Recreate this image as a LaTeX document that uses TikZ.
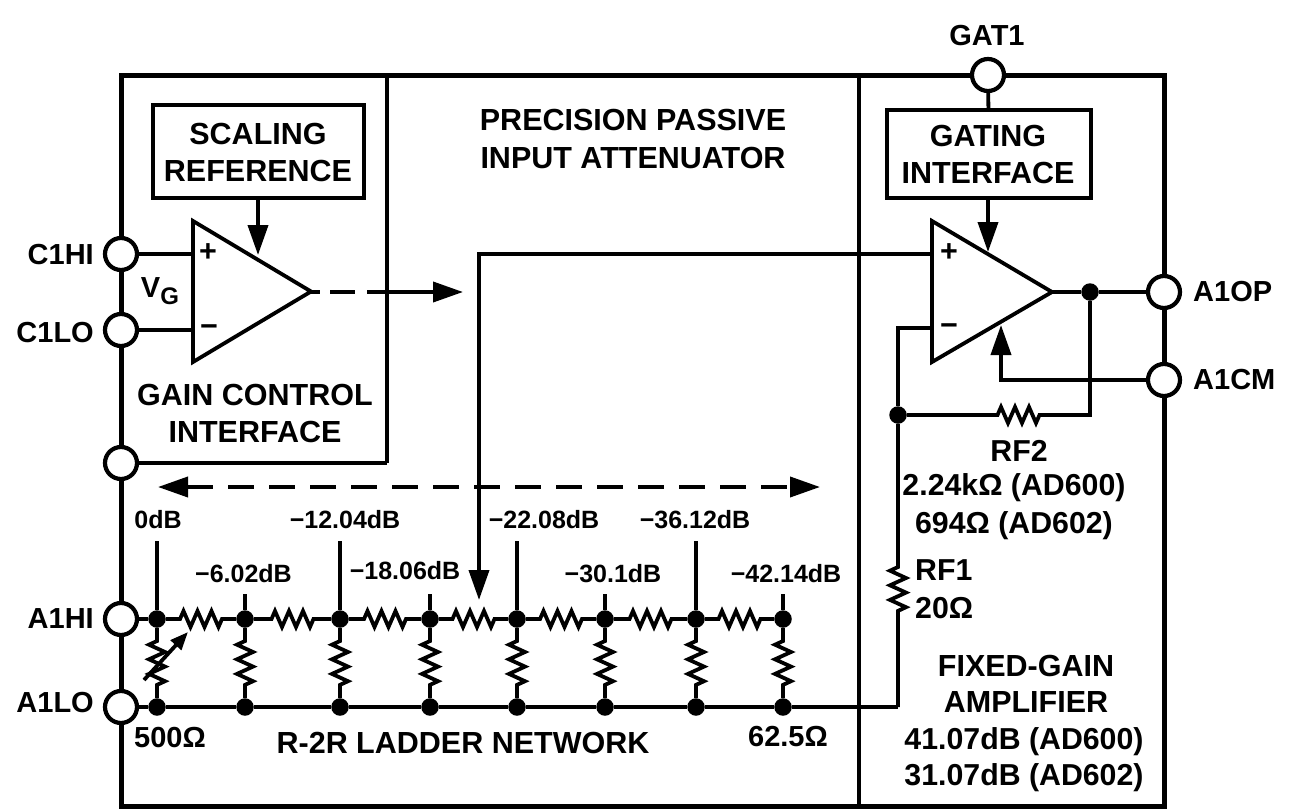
\documentclass[tikz,border=0pt]{standalone}
\usepackage{fontspec}
\setmainfont{Liberation Sans}[BoldFont=Liberation Sans Bold]
\usetikzlibrary{arrows.meta,calc}
\tikzset{
  wire/.style={line width=3.8pt,line join=miter},
  frameline/.style={line width=5pt,line join=miter},
  pin/.style={circle,draw,fill=white,line width=4.2pt,minimum size=32pt,inner sep=0pt},
  dot/.style={circle,fill=black,minimum size=17.5pt,inner sep=0pt},
  block/.style={draw,line width=3.8pt,inner sep=0pt},
  big/.style={font=\fontsize{30.5}{30.5}\bfseries\selectfont,inner sep=0pt},
  mid/.style={font=\fontsize{29}{29}\bfseries\selectfont,inner sep=0pt},
  wide/.style={font=\fontsize{30.3}{30.3}\bfseries\selectfont,inner sep=0pt},
  tiny/.style={font=\fontsize{25}{25}\bfseries\selectfont,inner sep=0pt},
  tip/.style={-{Triangle[length=30pt,width=20pt]}},
  hres/.style={to path={-- ($(\tikztostart)!.5!(\tikztotarget)+(-21,0)$) -- ++(3.5,-8) -- ++(7,16) -- ++(7,-16) -- ++(7,16) -- ++(7,-16) -- ++(7,16) -- ++(3.5,-8) -- (\tikztotarget)}},
  vres/.style={to path={-- ($(\tikztostart)!.5!(\tikztotarget)+(0,-22)$) -- ++(-8,3.7) -- ++(16,7.3) -- ++(-16,7.3) -- ++(16,7.3) -- ++(-16,7.3) -- ++(16,7.3) -- ++(-8,3.7) -- (\tikztotarget)}},
}
\begin{document}
\begin{tikzpicture}[x=1pt,y=-1pt]
\useasboundingbox (0,0) rectangle (1291,811);
% frame
\coordinate (fa) at (121,75);
\coordinate (fb) at (1164,806);
\coordinate (d1t) at (387,75);
\coordinate (d1b) at (387,463);
\coordinate (d2t) at (859,75);
\coordinate (d2b) at (859,806);
\draw[frameline] (fa) rectangle (fb);
\draw[wire] (d1t) -- (d1b);
\draw[wire] (d2t) -- (d2b);
% blocks
\node[block,minimum width=211pt,minimum height=93pt] (scal) at (258.5,151.5) {};
\node[block,minimum width=204pt,minimum height=88pt] (gate) at (989,154) {};
% op amps
\coordinate (oa1) at (193,221);
\coordinate (oa2) at (193,362);
\coordinate (oa3) at (311,291.5);
\coordinate (ob1) at (932,221);
\coordinate (ob2) at (932,362);
\coordinate (ob3) at (1052,292);
\draw[wire] (oa1) -- (oa3) -- (oa2) -- cycle;
\draw[wire] (ob1) -- (ob3) -- (ob2) -- cycle;
% pins
\node[pin] (gat) at (988,75) {};
\node[pin] (chi) at (121,254) {};
\node[pin] (clo) at (121,330) {};
\node[pin] (cgnd) at (121,463) {};
\node[pin] (aop) at (1164,292) {};
\node[pin] (acm) at (1164,380) {};
\node[pin] (ahi) at (121,619) {};
\node[pin] (alo) at (121,707) {};
% dots
\foreach \n/\x in {1/157,2/245,3/340,4/430,5/517,6/605,7/696,8/783}{
  \node[dot] (t\n) at (\x,619) {};
  \node[dot] (b\n) at (\x,707) {};
}
\node[dot] (fbk) at (898,415) {};
\node[dot] (out) at (1090,292) {};
% control wires
\coordinate (chiE) at (193,254);
\coordinate (cloE) at (193,330);
\draw[wire] (chi) -- (chiE);
\draw[wire] (clo) -- (cloE);
\draw[wire] (cgnd) -- (d1b);
\coordinate (sclS) at (258,198);
\coordinate (sclE) at (258,255);
\draw[wire,tip] (sclS) -- (sclE);
\coordinate (gatS) at (988,198);
\coordinate (gatE) at (988,252);
\draw[wire,tip] (gatS) -- (gatE);
\draw[wire] (gat) -- (gate);
% gain output
\coordinate (gm) at (367,292);
\coordinate (gt) at (463,292);
\coordinate (gs) at (311,292);
\draw[wire,dash pattern=on 9pt off 10pt on 25pt off 12pt] (gs) -- (gm);
\draw[wire,tip] (gm) -- (gt);
% input to ladder
\coordinate (ip) at (932,254);
\coordinate (ic) at (479,254);
\coordinate (ie) at (479,600);
\draw[wire,tip] (ip) -- (ic) -- (ie);
% amplifier output and feedback
\draw[wire] (ob3) -- (out) -- (aop);
\coordinate (in) at (932,328);
\coordinate (inc) at (898,328);
\draw[wire] (in) -- (inc) -- (fbk);
\coordinate (rf2a) at (975,415);
\coordinate (rf2b) at (1062,415);
\coordinate (fc) at (1090,415);
\draw[wire] (fbk) -- (rf2a) to[hres] (rf2b) -- (fc) -- (out);
\coordinate (rf1a) at (898,549);
\coordinate (rf1b) at (898,629);
\coordinate (bc) at (898,707);
\draw[wire] (fbk) -- (rf1a) to[vres] (rf1b) -- (bc);
\draw[wire] (b8) -- (bc);
% common mode
\coordinate (cmc) at (1001,380);
\coordinate (cme) at (1001,325);
\draw[wire,tip] (acm) -- (cmc) -- (cme);
% ladder
\draw[wire] (ahi) -- (t1);
\draw[wire] (alo) -- (b1);
\draw[wire] (b1) -- (b2) -- (b3) -- (b4) -- (b5) -- (b6) -- (b7) -- (b8);
\foreach \a/\b in {1/2,2/3,3/4,4/5,5/6,6/7,7/8}{
  \draw[wire] (t\a) to[hres] (t\b);
}
\foreach \n in {1,...,8}{
  \draw[wire] (t\n) to[vres] (b\n);
}
% stems
\foreach \n/\x/\y in {1/157/541,2/245/594,3/340/541,4/430/594,5/517/541,6/605/594,7/696/541,8/783/594}{
  \coordinate (s\n) at (\x,\y);
  \draw[wire] (s\n) -- (t\n);
}
% variable resistor arrow
\coordinate (va) at (144,680);
\coordinate (vb) at (188,632);
\draw[wire,-{Triangle[length=18pt,width=14pt]}] (va) -- (vb);
% dashed span
\coordinate (spanL) at (158,487);
\coordinate (spanR) at (820,487);
\draw[wire,dash pattern=on 26pt off 15pt,{Triangle[length=30pt,width=20pt]}-{Triangle[length=30pt,width=20pt]}] (spanL) -- (spanR);
% labels
\node[big] (l1) at (258,134) {SCALING};
\node[big] (l2) at (258,171) {REFERENCE};
\node[big] (l3) at (633,120) {PRECISION PASSIVE};
\node[big] (l4) at (633,158) {INPUT ATTENUATOR};
\node[big] (l5) at (988,136) {GATING};
\node[big] (l6) at (988,173) {INTERFACE};
\node[mid] (l7) at (987,36) {GAT1};
\node[mid,anchor=east] (l8) at (94,255) {C1HI};
\node[mid,anchor=east] (l9) at (94,333) {C1LO};
\node[mid,anchor=west] (l10) at (1193,292) {A1OP};
\node[mid,anchor=west] (l11) at (1193,380) {A1CM};
\node[mid,anchor=east] (l12) at (94,619) {A1HI};
\node[mid,anchor=east] (l13) at (94,703) {A1LO};
\node[big] (l14) at (208,253) {+};
\node[big] (l15) at (209,331) {−};
\node[big] (l16) at (949,253) {+};
\node[big] (l17) at (949,330) {−};
\node[mid] (l18) at (160,291) {V\raisebox{-7pt}{\fontsize{24}{24}\selectfont G}};
\node[big] (l19) at (255,395) {GAIN CONTROL};
\node[big] (l20) at (255,432) {INTERFACE};
\node[tiny] (d1) at (158,520) {0dB};
\node[tiny] (d2) at (243.5,574) {−6.02dB};
\node[tiny] (d3) at (345,520) {−12.04dB};
\node[tiny] (d4) at (405,571) {−18.06dB};
\node[tiny] (d5) at (544,520) {−22.08dB};
\node[tiny] (d6) at (613,574) {−30.1dB};
\node[tiny] (d7) at (695,520) {−36.12dB};
\node[tiny] (d8) at (786,574) {−42.14dB};
\node[mid,anchor=west] (l21) at (134,738) {500Ω};
\node[big] (l22) at (463,743) {R-2R LADDER NETWORK};
\node[mid] (l23) at (788,737) {62.5Ω};
\node[wide] (l24) at (1019,451) {RF2};
\node[wide] (l25) at (1014,488) {2.24kΩ (AD600)};
\node[wide] (l26) at (1014,526) {694Ω (AD602)};
\node[wide,anchor=west] (l27) at (915,570) {RF1};
\node[wide,anchor=west] (l28) at (915,608) {20Ω};
\node[big] (l29) at (1026,666) {FIXED-GAIN};
\node[big] (l30) at (1026,702) {AMPLIFIER};
\node[wide] (l31) at (1024,742) {41.07dB (AD600)};
\node[wide] (l32) at (1024,778) {31.07dB (AD602)};
\end{tikzpicture}
\end{document}
